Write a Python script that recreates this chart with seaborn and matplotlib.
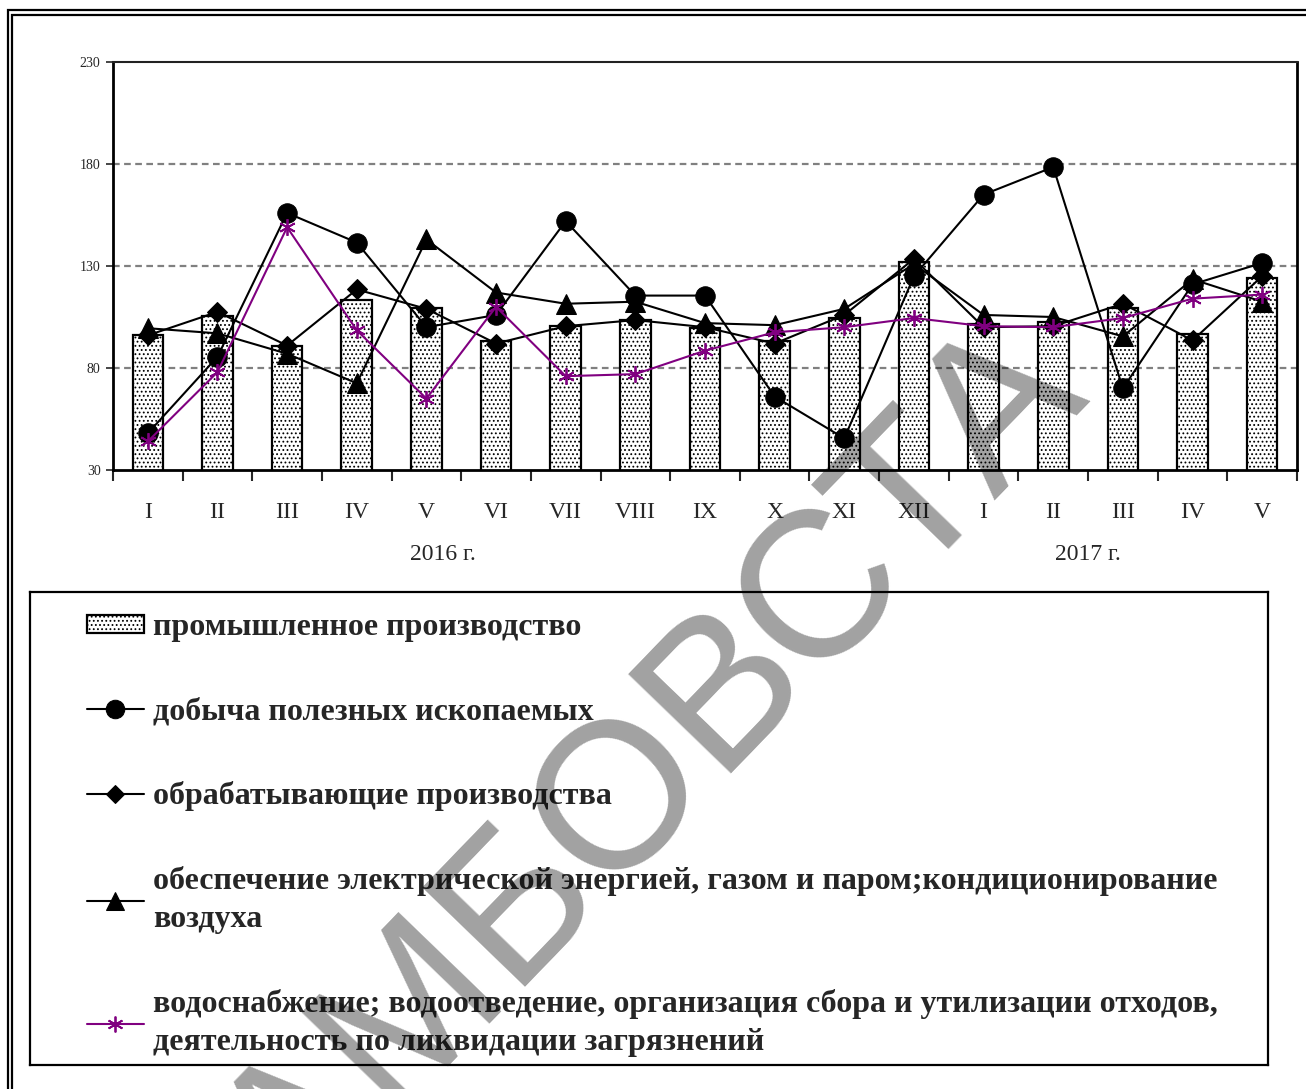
import pandas as pd
import seaborn as sns
import matplotlib.pyplot as plt
from matplotlib.patches import Rectangle

# Индексы производства по месяцам (2016 - 2017 гг.)
months = ["I", "II", "III", "IV", "V", "VI", "VII", "VIII", "IX", "X", "XI", "XII",
          "I", "II", "III", "IV", "V"]
industry = [96, 105.5, 91, 113.5, 109.5, 93, 100.5, 103.5, 99.5, 93, 104.5, 132,
            101.5, 102.5, 109.5, 96.5, 124]
mining = [48, 85.5, 156, 141.5, 100, 106, 152, 115.5, 115.5, 66, 45.5, 125,
          165, 178.5, 70, 121, 131.5]
manufacturing = [96, 107.5, 91, 118.5, 109, 92, 100.5, 103.5, 100, 92, 106, 133.5,
                 100, 100.5, 111.5, 93.5, 125]
energy = [99.5, 97, 87, 72.5, 143, 117, 111.5, 112.5, 102, 101, 109, 131,
          106, 105, 95.5, 123.5, 112.5]
water = [44, 78, 149, 98.5, 65, 110, 76, 77, 88.5, 97.5, 100, 104.5,
         100.5, 100, 104.5, 114, 116]

labels = [
    "промышленное производство",
    "добыча полезных ископаемых",
    "обрабатывающие производства",
    "обеспечение электрической энергией, газом и паром;кондиционирование\nвоздуха",
    "водоснабжение; водоотведение, организация сбора и утилизации отходов,\nдеятельность по ликвидации загрязнений",
]

pos = list(range(len(months)))
df = pd.DataFrame({"pos": pos, "industry": industry, "mining": mining,
                   "manufacturing": manufacturing, "energy": energy, "water": water})

sns.set_style("ticks")
plt.rcParams["font.family"] = ["Liberation Serif", "DejaVu Serif"]
plt.rcParams["hatch.linewidth"] = 0.8
plt.rcParams["hatch.color"] = "#666666"

W, H = 1306, 1089
fig = plt.figure(figsize=(W / 100, H / 100), dpi=100)
ax = fig.add_axes([113 / W, 1 - 470 / H, (1297 - 113) / W, (470 - 62) / H])

sns.barplot(data=df, x="pos", y="industry", ax=ax, width=0.44, color="white",
            edgecolor="black", linewidth=1.6, hatch="....", label=labels[0],
            saturation=1)

line_kw = dict(linewidth=1.5, color="black", markeredgecolor="black")
sns.lineplot(data=df, x="pos", y="mining", ax=ax, marker="o", markersize=14,
             label=labels[1], **line_kw)
sns.lineplot(data=df, x="pos", y="manufacturing", ax=ax, marker="D", markersize=10,
             label=labels[2], **line_kw)
sns.lineplot(data=df, x="pos", y="energy", ax=ax, marker="^", markersize=14,
             label=labels[3], **line_kw)
sns.lineplot(data=df, x="pos", y="water", ax=ax, marker=(6, 2, 0), markersize=12,
             linewidth=1.5, color="#800080", markeredgecolor="#800080",
             markeredgewidth=1.3, label=labels[4])

ax.set_ylim(30, 230)
ax.set_xlim(-0.5, len(months) - 0.5)
ax.set_yticks([30, 80, 130, 180, 230])
ax.tick_params(axis="y", labelsize=10, length=5, width=1.2, direction="out", pad=4)
ax.set_xticks(pos)
ax.set_xticklabels(months, fontsize=17)
ax.tick_params(axis="x", which="major", length=0, pad=23)
ax.set_xticks([p - 0.5 for p in pos] + [len(months) - 0.5], minor=True)
ax.tick_params(axis="x", which="minor", length=8, width=1.5, direction="out")
ax.set_xlabel("")
ax.set_ylabel("")
for y in [80, 130, 180]:
    ax.axhline(y, color="#808080", linestyle=(0, (3, 2)), linewidth=1.6, zorder=0)
for side in ["left", "bottom", "right"]:
    ax.spines[side].set_linewidth(2)
    ax.spines[side].set_color("black")
ax.spines["top"].set_visible(True)
ax.spines["top"].set_linewidth(1.5)
ax.spines["top"].set_color("#222222")

ax.text(4.24, -0.208, "2016 г.", transform=ax.get_xaxis_transform(),
        ha="center", va="center", fontsize=17)
ax.text(13.5, -0.208, "2017 г.", transform=ax.get_xaxis_transform(),
        ha="center", va="center", fontsize=17)

# Легенда в отдельной рамке, столбцы первыми
handles, labs = ax.get_legend_handles_labels()
order = [labs.index(l) for l in labels]
handles = [handles[i] for i in order]
ax.get_legend().remove()
lax = fig.add_axes([30 / W, 1 - 1065 / H, (1268 - 30) / W, (1065 - 592) / H])
lax.set_xticks([])
lax.set_yticks([])
for s in lax.spines.values():
    s.set_visible(True)
    s.set_linewidth(1.6)
    s.set_color("black")
leg = lax.legend(handles, labels, loc="upper left", bbox_to_anchor=(0.046, 0.955),
                 frameon=False, borderaxespad=0, borderpad=0,
                 prop={"family": "Liberation Serif", "weight": "bold", "size": 23},
                 handlelength=1.78, handleheight=0.5, handletextpad=0.28,
                 labelspacing=1.72, markerscale=0.95)
for t in leg.get_texts():
    t.set_linespacing(1.4)

# Двойная рамка рисунка
fig.add_artist(Rectangle((8 / W, -0.1), 1.2, 1 - 10 / H + 0.1, transform=fig.transFigure,
                         fill=False, edgecolor="black", linewidth=1.6))
fig.add_artist(Rectangle((12.5 / W, -0.1), 1.2, 1 - 14.5 / H + 0.1, transform=fig.transFigure,
                         fill=False, edgecolor="black", linewidth=1.6))

# Водяной знак
fig.text(612 / W, 1 - 814 / H, "ТАМБОВСТА", rotation=46, ha="center", va="center",
         fontsize=150, family="Liberation Sans", color="black", alpha=0.37, zorder=20)

plt.savefig("out.png", dpi=100)
